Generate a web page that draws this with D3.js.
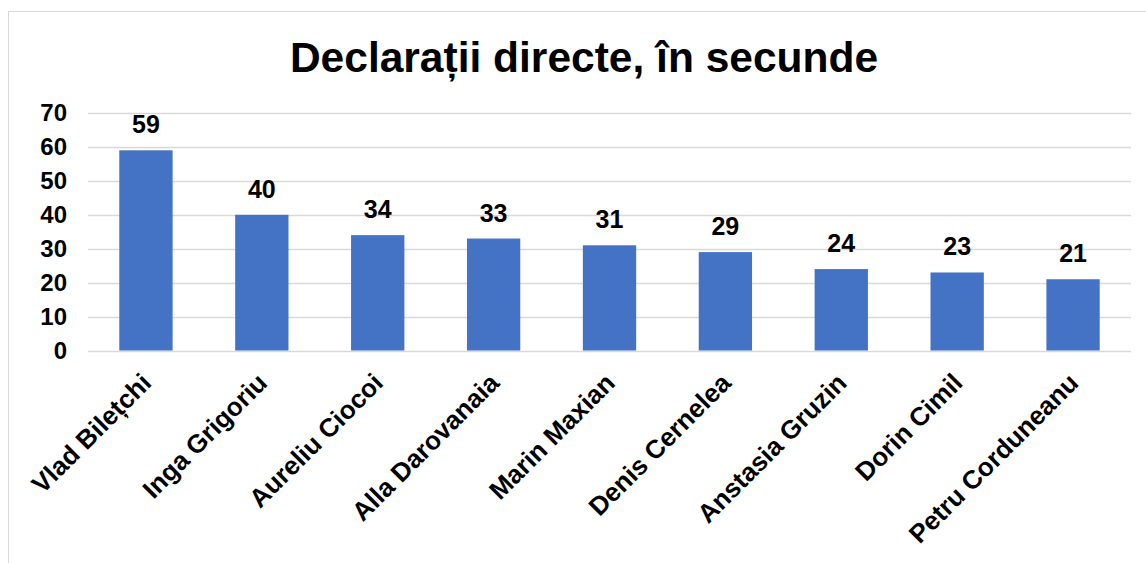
<!DOCTYPE html>
<html>
<head>
<meta charset="utf-8">
<script src="https://cdn.jsdelivr.net/npm/d3@7"></script>
<style>
  body { margin: 0; background: #fff; }
  text { font-family: "Liberation Sans", Arial, sans-serif; font-weight: bold; fill: #000; }
</style>
</head>
<body>
<script>
// Chart data
const names = ['Vlad Bilețchi', 'Inga Grigoriu', 'Aureliu Ciocoi', 'Alla Darovanaia',
  'Marin Maxian', 'Denis Cernelea', 'Anstasia Gruzin', 'Dorin Cimil', 'Petru Corduneanu'];
const seconds = [59, 40, 34, 33, 31, 29, 24, 23, 21];
const yTicks = [0, 10, 20, 30, 40, 50, 60, 70];
const title = 'Declarații directe, în secunde';

const width = 1146, height = 563;
const margin = {top: 113, right: 15, bottom: 213, left: 88};
const font = '"Liberation Sans", Arial, sans-serif';

const svg = d3.select('body').append('svg')
    .attr('width', width)
    .attr('height', height);

// chart frame
svg.append('rect')
    .attr('x', 8.5).attr('y', 11.5)
    .attr('width', width + 10).attr('height', height + 10)
    .attr('fill', 'none')
    .attr('stroke', '#d9d9d9');

const x = d3.scaleBand()
    .domain(names)
    .range([margin.left, width - margin.right])
    .paddingInner(0.54)
    .paddingOuter(0.27);

const y = d3.scaleLinear()
    .domain([0, 70])
    .range([height - margin.bottom + 0.5, margin.top]);

// gridlines
svg.append('g')
    .selectAll('line')
    .data(yTicks)
    .join('line')
    .attr('x1', margin.left)
    .attr('x2', width - margin.right)
    .attr('y1', d => Math.round(y(d)) + 0.5)
    .attr('y2', d => Math.round(y(d)) + 0.5)
    .attr('stroke', '#d9d9d9')
    .attr('stroke-width', 1.5);

// y axis labels
const yAxis = svg.append('g')
    .attr('transform', `translate(${margin.left},0)`)
    .call(d3.axisLeft(y).tickValues(yTicks).tickSize(0).tickPadding(21));
yAxis.select('.domain').remove();
yAxis.selectAll('text')
    .attr('font-size', 24)
    .attr('font-family', font)
    .attr('font-weight', 'bold')
    .attr('fill', '#000');

// bars
svg.append('g')
    .selectAll('rect')
    .data(seconds)
    .join('rect')
    .attr('x', (d, i) => x(names[i]))
    .attr('y', d => y(d))
    .attr('width', x.bandwidth())
    .attr('height', d => y(0) - y(d))
    .attr('fill', '#4472C4');

// value labels
svg.append('g')
    .selectAll('text')
    .data(seconds)
    .join('text')
    .attr('x', (d, i) => x(names[i]) + x.bandwidth() / 2)
    .attr('y', d => y(d) - 17)
    .attr('text-anchor', 'middle')
    .attr('font-size', 25)
    .text(d => d);

// x axis labels
const xAxis = svg.append('g')
    .attr('transform', `translate(0,${y(0)})`)
    .call(d3.axisBottom(x).tickSize(0).tickPadding(0));
xAxis.select('.domain').remove();
xAxis.selectAll('text')
    .attr('font-size', 26)
    .attr('font-family', font)
    .attr('font-weight', 'bold')
    .attr('fill', '#000')
    .attr('text-anchor', 'end')
    .attr('dy', null)
    .attr('transform', 'translate(7,34) rotate(-45)');

// title
svg.append('text')
    .attr('x', 584)
    .attr('y', 72)
    .attr('text-anchor', 'middle')
    .attr('font-size', 42.5)
    .text(title);
</script>
</body>
</html>
